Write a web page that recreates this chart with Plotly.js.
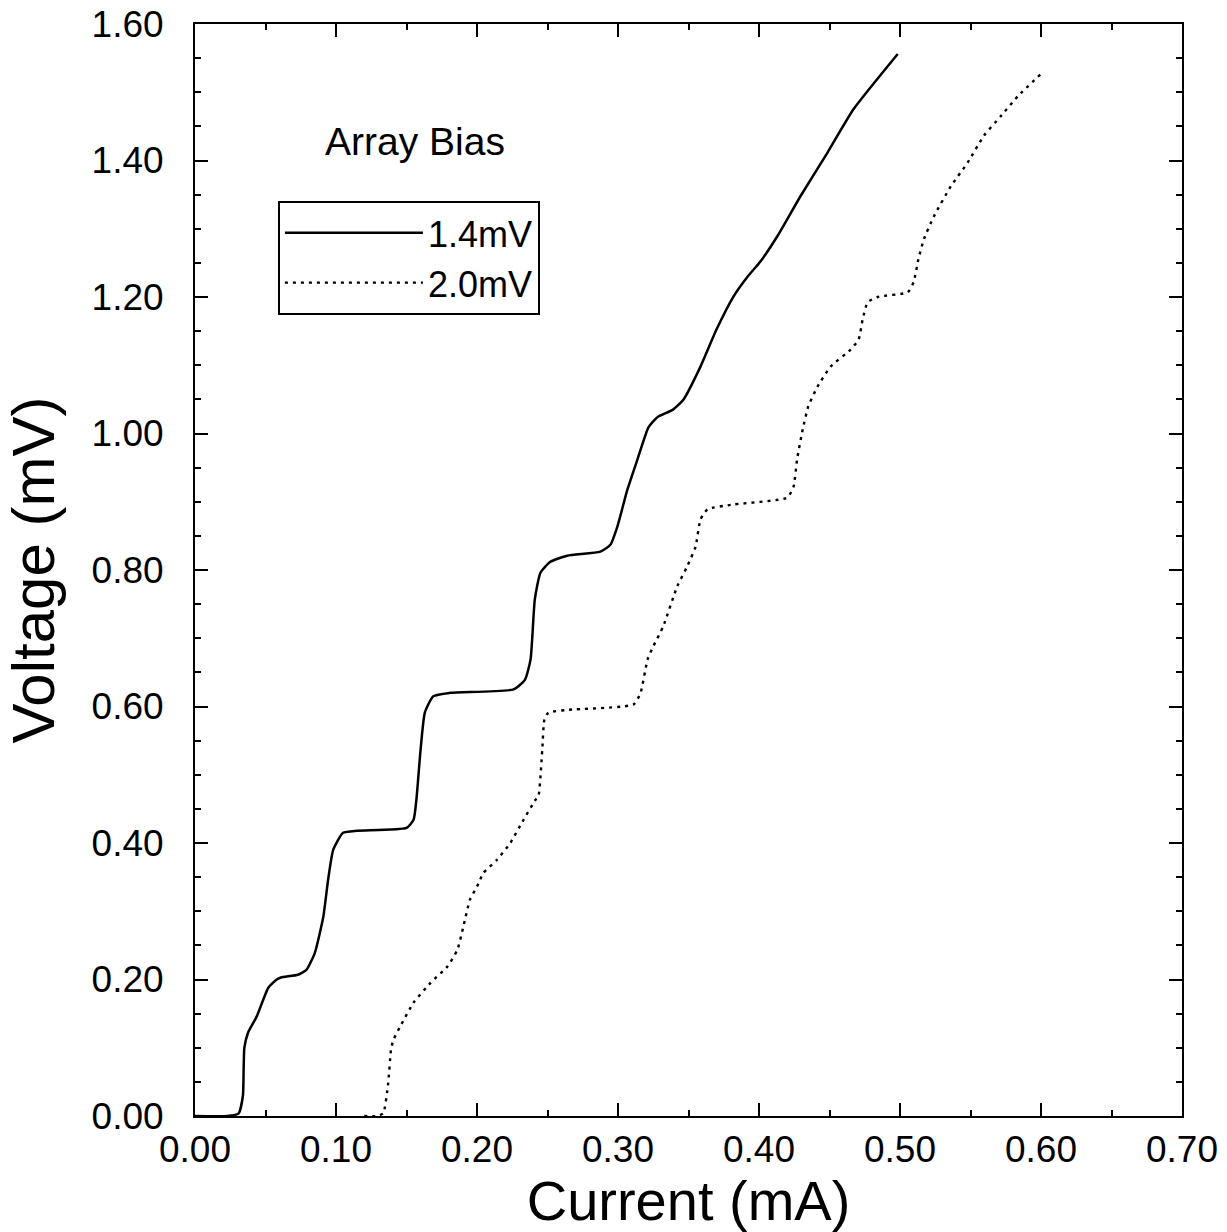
<!DOCTYPE html>
<html>
<head>
<meta charset="utf-8">
<script src="https://cdn.plot.ly/plotly-3.0.1.min.js"></script>
<style>html,body{margin:0;padding:0;background:#fff;}#chart{width:1227px;height:1232px;}</style>
</head>
<body>
<div id="chart"></div>
<script>
// Series: 1.4 mV array bias (solid)
const current14 = [0.000, 0.023, 0.031, 0.034, 0.0345, 0.035, 0.0376, 0.0438, 0.052, 0.058, 0.061, 0.073, 0.079, 0.085, 0.091, 0.0944, 0.098, 0.105, 0.115, 0.150, 0.155, 0.157, 0.160, 0.163, 0.169, 0.181, 0.226, 0.234, 0.238, 0.241, 0.245, 0.252, 0.264, 0.2875, 0.2946, 0.2996, 0.3067, 0.3138, 0.3216, 0.328, 0.339, 0.3465, 0.3585, 0.370, 0.382, 0.392, 0.401, 0.413, 0.4295, 0.4487, 0.467, 0.4984];
const voltage14 = [0.000, 0.000, 0.004, 0.030, 0.070, 0.100, 0.122, 0.146, 0.188, 0.200, 0.203, 0.207, 0.214, 0.239, 0.292, 0.346, 0.390, 0.415, 0.418, 0.422, 0.434, 0.463, 0.537, 0.591, 0.615, 0.620, 0.625, 0.639, 0.669, 0.757, 0.796, 0.812, 0.821, 0.827, 0.837, 0.864, 0.918, 0.962, 1.009, 1.024, 1.035, 1.050, 1.098, 1.153, 1.201, 1.230, 1.252, 1.289, 1.348, 1.412, 1.475, 1.556];
// Series: 2.0 mV array bias (dotted)
const current20 = [0.120, 0.129, 0.1335, 0.137, 0.139, 0.1406, 0.1455, 0.155, 0.167, 0.179, 0.186, 0.1903, 0.195, 0.200, 0.2045, 0.214, 0.2236, 0.233, 0.2414, 0.2435, 0.2463, 0.2478, 0.2506, 0.264, 0.311, 0.316, 0.321, 0.325, 0.332, 0.342, 0.349, 0.355, 0.3585, 0.3635, 0.382, 0.420, 0.4245, 0.427, 0.431, 0.435, 0.4416, 0.4508, 0.465, 0.4707, 0.4735, 0.477, 0.484, 0.5055, 0.5097, 0.513, 0.517, 0.524, 0.536, 0.548, 0.5594, 0.5715, 0.5835, 0.600];
const voltage20 = [0.000, 0.000, 0.004, 0.048, 0.097, 0.111, 0.131, 0.166, 0.195, 0.219, 0.243, 0.277, 0.317, 0.336, 0.356, 0.375, 0.400, 0.434, 0.463, 0.468, 0.537, 0.581, 0.591, 0.595, 0.603, 0.620, 0.669, 0.688, 0.717, 0.776, 0.805, 0.834, 0.874, 0.889, 0.896, 0.906, 0.922, 0.962, 1.006, 1.040, 1.069, 1.098, 1.123, 1.138, 1.167, 1.192, 1.200, 1.207, 1.222, 1.255, 1.285, 1.318, 1.362, 1.397, 1.436, 1.465, 1.494, 1.527];
const seriesNames = ["1.4mV", "2.0mV"];
const legendHeading = "Array Bias";
const xTitle = "Current (mA)";
const yTitle = "Voltage (mV)";

const FONT = "Liberation Sans, Arial, Helvetica, sans-serif";

const traces = [
  {x: current14, y: voltage14, name: seriesNames[0], mode: "lines",
   line: {color: "#000", width: 2.5, dash: "solid", shape: "spline", smoothing: 0.5}},
  {x: current20, y: voltage20, name: seriesNames[1], mode: "lines",
   line: {color: "#000", width: 2.4, dash: "3px,5px", shape: "spline", smoothing: 0.5}}
];

const axisCommon = {
  showgrid: false, zeroline: false,
  showline: true, linecolor: "#000", linewidth: 2,
  mirror: "allticks",
  ticks: "inside", ticklen: 13, tickwidth: 2, tickcolor: "#000",
  tickformat: ".2f",
  tickfont: {family: FONT, size: 37, color: "#000"}
};

const layout = {
  width: 1227, height: 1232,
  margin: {l: 195, r: 45, t: 24, b: 116},
  paper_bgcolor: "#fff", plot_bgcolor: "#fff",
  font: {family: FONT, color: "#000"},
  showlegend: true,
  xaxis: Object.assign({}, axisCommon, {
    range: [0, 0.7], dtick: 0.1, tick0: 0,
    ticklabelstandoff: 0,
    minor: {dtick: 0.05, ticks: "inside", ticklen: 6, tickwidth: 2, tickcolor: "#000"},
    title: {text: xTitle, font: {family: FONT, size: 56, color: "#000"}, standoff: 2}
  }),
  yaxis: Object.assign({}, axisCommon, {
    range: [0, 1.6], dtick: 0.2, tick0: 0,
    ticklabelstandoff: 22,
    minor: {dtick: 0.05, ticks: "inside", ticklen: 6, tickwidth: 2, tickcolor: "#000"},
    title: {text: yTitle, font: {family: FONT, size: 60, color: "#000"}, standoff: 22}
  }),
  legend: {
    x: 0.084, y: 0.838, xanchor: "left", yanchor: "top",
    bgcolor: "#fff", bordercolor: "#000", borderwidth: 2,
    font: {family: FONT, size: 36, color: "#000"},
    itemwidth: 138, tracegroupgap: 0
  },
  annotations: [{
    text: legendHeading, xref: "paper", yref: "paper",
    x: 0.223, y: 0.892, xanchor: "center", yanchor: "middle",
    showarrow: false, font: {family: FONT, size: 39, color: "#000"}
  }]
};

Plotly.newPlot("chart", traces, layout, {displayModeBar: false, staticPlot: true});
</script>
</body>
</html>
